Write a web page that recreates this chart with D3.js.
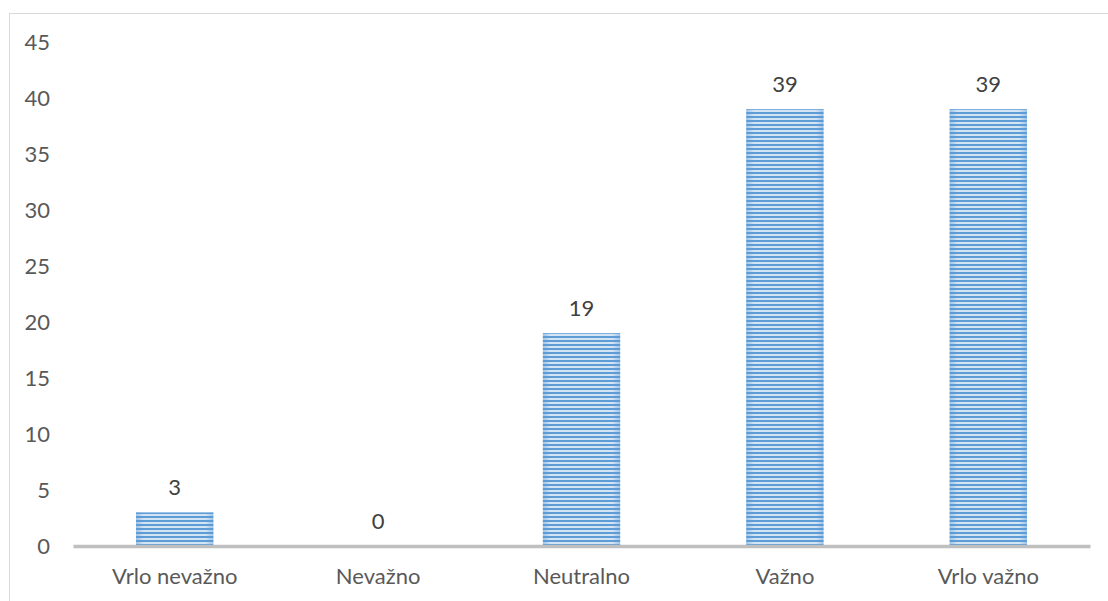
<!DOCTYPE html>
<html><head><meta charset="utf-8">
<script src="https://cdn.jsdelivr.net/npm/d3@7"></script>
<style>body{margin:0;background:#fff}svg{display:block}</style>
</head><body>
<script>
const categories = ["Vrlo nevažno", "Nevažno", "Neutralno", "Važno", "Vrlo važno"];
const values = [3, 0, 19, 39, 39];
const yTicks = [0, 5, 10, 15, 20, 25, 30, 35, 40, 45];

const W = 1108, H = 601;
const svg = d3.select("body").append("svg").attr("width", W).attr("height", H);
const font = "Lato, 'Open Sans', sans-serif";
const fs = 22;

const defs = svg.append("defs");
const pat = defs.append("pattern").attr("id", "stripes")
  .attr("patternUnits", "userSpaceOnUse").attr("width", 8).attr("height", 4);
pat.append("rect").attr("width", 8).attr("height", 4).attr("fill", "#d3e4f5");
pat.append("rect").attr("y", 0).attr("width", 8).attr("height", 2).attr("fill", "#5e9cd6");

const grad = defs.append("linearGradient").attr("id", "edge").attr("x1", 0).attr("x2", 1).attr("y1", 0).attr("y2", 0);
grad.append("stop").attr("offset", "0%").attr("stop-color", "#5b9bd5").attr("stop-opacity", 0.45);
grad.append("stop").attr("offset", "10%").attr("stop-color", "#5b9bd5").attr("stop-opacity", 0);
grad.append("stop").attr("offset", "90%").attr("stop-color", "#5b9bd5").attr("stop-opacity", 0);
grad.append("stop").attr("offset", "100%").attr("stop-color", "#5b9bd5").attr("stop-opacity", 0.45);

// chart border
svg.append("rect").attr("x", 9.5).attr("y", 13.5).attr("width", W + 20).attr("height", H + 20)
  .attr("fill", "none").attr("stroke", "#d9d9d9").attr("stroke-width", 1);

const x = d3.scaleBand().domain(categories).range([73, 1090]).paddingInner(0.62).paddingOuter(0.31);
const y = d3.scaleLinear().domain([0, 45]).range([546, 42]);

// y labels
const yAxis = d3.axisLeft(y).tickValues(yTicks).tickSize(0).tickPadding(0);
const gy = svg.append("g").attr("transform", "translate(50,0)").call(yAxis);
gy.select(".domain").remove();
gy.selectAll("text").attr("font-family", font).attr("font-size", fs).attr("fill", "#595959");

// bars
const bars = svg.append("g");
bars.selectAll("rect.bar").data(values).join("rect").attr("class", "bar")
  .attr("x", (d, i) => x(categories[i]))
  .attr("width", x.bandwidth())
  .attr("y", d => y(d))
  .attr("height", d => y(0) - y(d))
  .attr("fill", "url(#stripes)");
bars.selectAll("rect.edge").data(values).join("rect").attr("class", "edge")
  .attr("x", (d, i) => x(categories[i]))
  .attr("width", x.bandwidth())
  .attr("y", d => y(d))
  .attr("height", d => y(0) - y(d))
  .attr("fill", "url(#edge)");

// x axis
const xAxis = d3.axisBottom(x).tickSize(0).tickPadding(22);
const gx = svg.append("g").attr("transform", `translate(0,${y(0)})`).call(xAxis);
gx.select(".domain").attr("stroke", "#bfbfbf").attr("stroke-width", 3.5);
gx.selectAll("text").attr("font-family", font).attr("font-size", fs).attr("fill", "#595959");

// data labels
svg.append("g").selectAll("text").data(values).join("text")
  .attr("x", (d, i) => x(categories[i]) + x.bandwidth() / 2)
  .attr("y", d => y(d) - 17)
  .attr("text-anchor", "middle")
  .attr("font-family", font).attr("font-size", fs).attr("fill", "#404040")
  .text(d => d);
</script>
</body></html>
